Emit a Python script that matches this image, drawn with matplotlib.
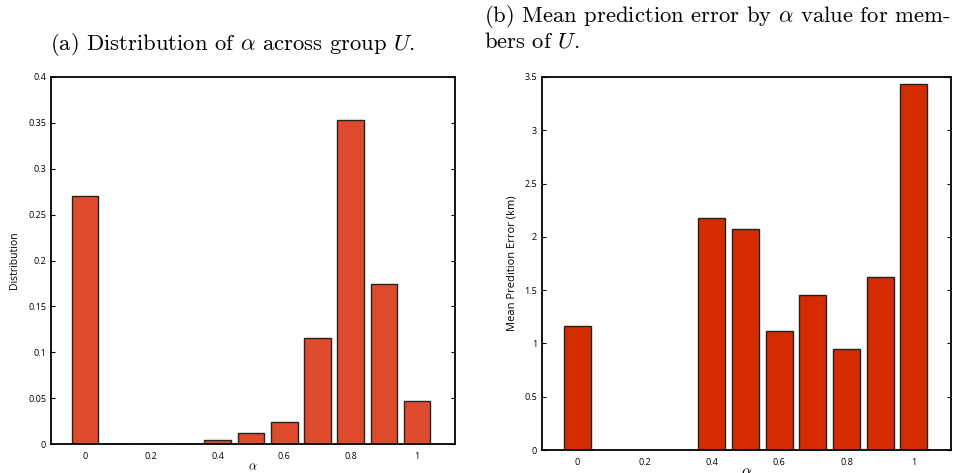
import matplotlib
matplotlib.use("Agg")
import matplotlib.pyplot as plt

# alpha bins
alpha = [0.0, 0.1, 0.2, 0.3, 0.4, 0.5, 0.6, 0.7, 0.8, 0.9, 1.0]
# (a) distribution of alpha across group U
dist = [0.27, 0.0, 0.0, 0.0, 0.004, 0.012, 0.024, 0.115, 0.353, 0.174, 0.047]
# (b) mean prediction error (km) by alpha
err_alpha = [0.0, 0.4, 0.5, 0.6, 0.7, 0.8, 0.9, 1.0]
err = [1.16, 2.18, 2.07, 1.12, 1.45, 0.95, 1.62, 3.43]
xticks = [0, 0.2, 0.4, 0.6, 0.8, 1]
xticklabels = ["0", "0.2", "0.4", "0.6", "0.8", "1"]

plt.rcParams["mathtext.fontset"] = "cm"
tick_font = "Open Sans"
title_font = ["cmr10", "DejaVu Serif"]

fig = plt.figure(figsize=(9.65, 4.73), dpi=100)
ax1 = fig.add_axes([51 / 965, 1 - 444 / 473, 404 / 965, 367 / 473])
ax2 = fig.add_axes([542 / 965, 1 - 450 / 473, 409 / 965, 373 / 473])


def style(ax):
    for s in ax.spines.values():
        s.set_linewidth(1.3)
    ax.tick_params(axis="y", direction="in", length=3, width=0.8,
                   right=True, labelsize=6.5)
    ax.tick_params(axis="x", length=0, labelsize=6.5, pad=6)
    for lab in ax.get_xticklabels() + ax.get_yticklabels():
        lab.set_fontfamily(tick_font)


ax1.bar(alpha, dist, width=0.08, color="#dd4a2c", edgecolor="#222222", linewidth=1.0)
ax1.set_xlim(-0.102, 1.114)
ax1.set_ylim(0, 0.4)
ax1.set_yticks([0, 0.05, 0.1, 0.15, 0.2, 0.25, 0.3, 0.35, 0.4])
ax1.set_yticklabels(["0", "0.05", "0.1", "0.15", "0.2", "0.25", "0.3", "0.35", "0.4"])
ax1.set_xticks(xticks)
ax1.set_xticklabels(xticklabels)
ax1.set_ylabel("Distribution", fontsize=7.5, family=tick_font, labelpad=6)
ax1.set_xlabel(r"$\alpha$", fontsize=9, labelpad=-1)
style(ax1)

ax2.bar(err_alpha, err, width=0.08, color="#d42c00", edgecolor="#222222", linewidth=1.0)
ax2.set_xlim(-0.104, 1.11)
ax2.set_ylim(0, 3.5)
ax2.set_yticks([0, 0.5, 1, 1.5, 2, 2.5, 3, 3.5])
ax2.set_yticklabels(["0", "0.5", "1", "1.5", "2", "2.5", "3", "3.5"])
ax2.set_xticks(xticks)
ax2.set_xticklabels(xticklabels)
ax2.set_ylabel("Mean Predition Error (km)", fontsize=8, family=tick_font, labelpad=5)
ax2.set_xlabel(r"$\alpha$", fontsize=11, labelpad=-2)
style(ax2)

fig.text(233 / 965, 1 - 45 / 473, r"(a) Distribution of $\alpha$ across group $U$.",
         ha="center", va="center", fontsize=16.3, family=title_font)
fig.text(484 / 965, 1 - 17 / 473, r"(b) Mean prediction error by $\alpha$ value for mem-",
         ha="left", va="center", fontsize=16.3, family=title_font)
fig.text(484 / 965, 1 - 42 / 473, r"bers of $U$.",
         ha="left", va="center", fontsize=16.3, family=title_font)

fig.savefig("out.png", dpi=100)
